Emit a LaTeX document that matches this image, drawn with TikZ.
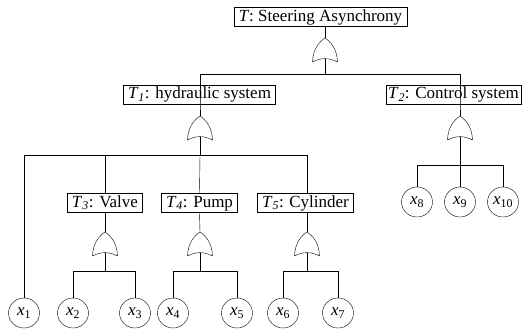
\documentclass[tikz,border=0pt]{standalone}
\usepackage{fontspec}
\setmainfont{Liberation Serif}
\usetikzlibrary{shapes.geometric}

\newcommand{\ev}[2]{\textit{#1}\textsubscript{\textit{#2}}}
\newcommand{\bx}[1]{\textit{x}\textsubscript{#1}}

\begin{document}
\begin{tikzpicture}[x=1pt,y=-1pt,
    font=\fontsize{17}{20}\selectfont,
    event/.style={draw,inner xsep=4.5pt,inner ysep=0pt,minimum height=19pt,
      text height=12pt,text depth=3.5pt},
    basic/.style={draw,ellipse,inner sep=0pt,minimum width=31pt,minimum height=30pt},
    orgate/.pic={
      \draw (-12.5,24) .. controls (-12,11) and (-6,4) .. (0,0)
        .. controls (6,4) and (12,11) .. (12.5,24)
        .. controls (4,19.5) and (-4,19.5) .. (-12.5,24) -- cycle;
      \coordinate (-in) at (0,0);
      \coordinate (-out) at (0,21);
    }]
  \useasboundingbox (0,0) rectangle (522,330);

  % top event
  \node[event] (T) at (320.5,17) {\textit{T}: Steering Asynchrony};
  \pic (g0) at (325,38) {orgate};
  \coordinate (b0) at (325,74);

  % intermediate events
  \node[event] (T1) at (199.5,94.5) {\ev{T}{1}: hydraulic system};
  \node[event,inner xsep=2pt,anchor=east] (T2) at (521,94.5) {\ev{T}{2}: Control system};
  \pic (g1) at (200,116) {orgate};
  \pic (g2) at (460,116) {orgate};
  \coordinate (b1) at (200,155);
  \coordinate (b2) at (460,165);

  \node[event] (T3) at (105,203) {\ev{T}{3}: Valve};
  \node[event] (T4) at (199.5,203) {\ev{T}{4}: Pump};
  \node[event] (T5) at (305.5,203) {\ev{T}{5}: Cylinder};
  \pic (g3) at (105,232) {orgate};
  \pic (g4) at (200,232) {orgate};
  \pic (g5) at (307,232) {orgate};
  \coordinate (b3) at (105,271);
  \coordinate (b4) at (200,271);
  \coordinate (b5) at (307,271);

  % basic events
  \node[basic] (x1) at (24,313) {\bx{1}};
  \node[basic] (x2) at (73,313) {\bx{2}};
  \node[basic] (x3) at (135,313) {\bx{3}};
  \node[basic] (x4) at (173,313) {\bx{4}};
  \node[basic] (x5) at (237,313) {\bx{5}};
  \node[basic] (x6) at (283,313) {\bx{6}};
  \node[basic] (x7) at (338,313) {\bx{7}};
  \node[basic] (x8) at (417,202) {\bx{8}};
  \node[basic] (x9) at (460,202) {\bx{9}};
  \node[basic] (x10) at (503,202) {\bx{10}};

  % connectors
  \draw (g0-in |- T.south) -- (g0-in);
  \draw (g0-out) -- (b0);
  \draw (b0) -| (T1.south -| g1-in) -- (g1-in);
  \draw (b0) -| (T2.south -| g2-in) -- (g2-in);

  \draw (g1-out) -- (b1);
  \draw (b1) -| (x1.north);
  \draw (b1) -| (T3.north);
  \draw (b1) -- (T4.north);
  \draw (b1) -| (g5-in |- T5.north);

  \draw (g2-out) -- (b2);
  \draw (b2) -| (x8.north);
  \draw (b2) -- (x9.north);
  \draw (b2) -| (x10.north);

  \draw (T3.south) -- (g3-in);
  \draw (g3-out) -- (b3);
  \draw (b3) -| (x2.north);
  \draw (b3) -| (x3.north);

  \draw (T4.south) -- (g4-in);
  \draw (g4-out) -- (b4);
  \draw (b4) -| (x4.north);
  \draw (b4) -| (x5.north);

  \draw (g5-in |- T5.south) -- (g5-in);
  \draw (g5-out) -- (b5);
  \draw (b5) -| (x6.north);
  \draw (b5) -| (x7.north);
\end{tikzpicture}
\end{document}
